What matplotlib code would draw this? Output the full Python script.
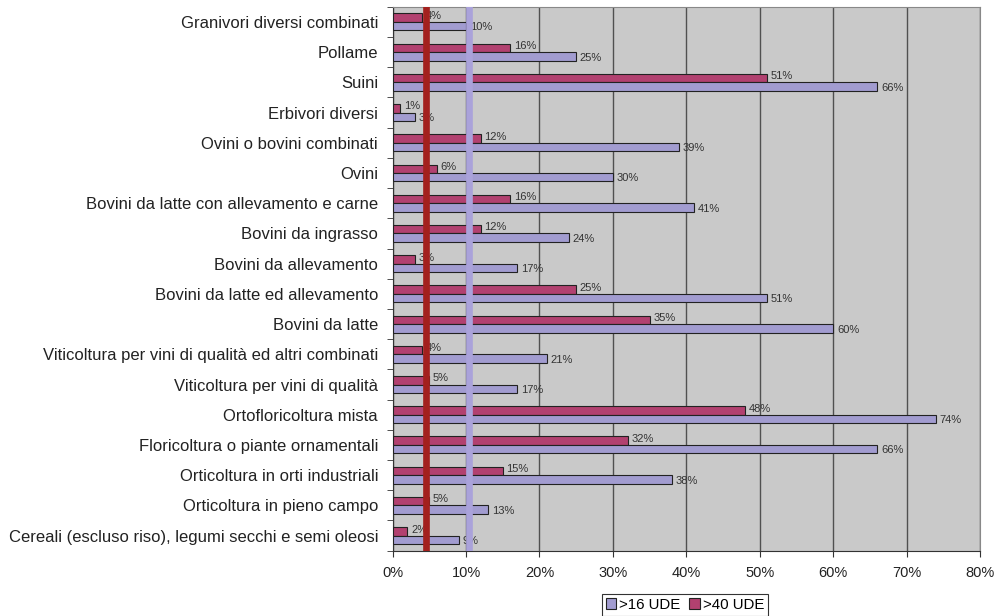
import matplotlib
matplotlib.use('Agg')
import matplotlib.pyplot as plt
import numpy as np

plt.rcParams['font.family'] = ['Liberation Sans', 'DejaVu Sans']

# categorie, dal basso verso l'alto
categorie = [
    'Cereali (escluso riso), legumi secchi e semi oleosi',
    'Orticoltura in pieno campo',
    'Orticoltura in orti industriali',
    'Floricoltura o piante ornamentali',
    'Ortofloricoltura mista',
    'Viticoltura per vini di qualità',
    'Viticoltura per vini di qualità ed altri combinati',
    'Bovini da latte',
    'Bovini da latte ed allevamento',
    'Bovini da allevamento',
    'Bovini da ingrasso',
    'Bovini da latte con allevamento e carne',
    'Ovini',
    'Ovini o bovini combinati',
    'Erbivori diversi',
    'Suini',
    'Pollame',
    'Granivori diversi combinati',
]
ude16 = [9, 13, 38, 66, 74, 17, 21, 60, 51, 17, 24, 41, 30, 39, 3, 66, 25, 10]
ude40 = [2, 5, 15, 32, 48, 5, 4, 35, 25, 3, 12, 16, 6, 12, 1, 51, 16, 4]
media40 = 4.5
media16 = 10.4

col16 = '#a29cd0'
col40 = '#b24170'

fig = plt.figure(figsize=(9.94, 6.16), dpi=100)
ax = fig.add_axes([0.395, 0.106, 0.591, 0.883])
ax.set_facecolor('#c9c9c9')

y = np.arange(len(categorie))
h = 0.28
ax.barh(y + h / 2, ude40, height=h, color=col40, edgecolor='#222222', linewidth=0.8, zorder=3, label='>40 UDE')
ax.barh(y - h / 2, ude16, height=h, color=col16, edgecolor='#222222', linewidth=0.8, zorder=3, label='>16 UDE')

for i in range(len(categorie)):
    ax.text(ude40[i] + 0.5, y[i] + h / 2 + 0.06, '%d%%' % ude40[i], fontsize=8, color='#333333',
            va='center', ha='left', zorder=4)
    ax.text(ude16[i] + 0.5, y[i] - h / 2 - 0.04, '%d%%' % ude16[i], fontsize=8, color='#333333',
            va='center', ha='left', zorder=4)

ax.axvline(media40, color='#a3201e', lw=4.8, zorder=5)
ax.axvline(media16, color='#aaa2da', lw=4.8, zorder=5)

ax.set_xlim(0, 80)
ax.set_ylim(-0.5, len(categorie) - 0.5)
ax.set_xticks(np.arange(0, 81, 10))
ax.set_xticklabels(['%d%%' % v for v in range(0, 81, 10)], fontsize=10.5, color='#222222')
ax.set_yticks(y)
ax.set_yticklabels(categorie, fontsize=12, color='#222222')
ax.tick_params(axis='y', length=0, pad=10.5)
ax.set_yticks(np.arange(-0.5, len(categorie)), minor=True)
ax.tick_params(axis='y', which='minor', length=4, color='#333333')
ax.tick_params(axis='x', length=4, color='#333333', pad=7)
ax.xaxis.grid(True, color='#505050', lw=1)
ax.set_axisbelow(True)
for s in ['top', 'right']:
    ax.spines[s].set_color('#888888')
for s in ['left', 'bottom']:
    ax.spines[s].set_color('#333333')

handles, labels = ax.get_legend_handles_labels()
leg = fig.legend(handles[::-1], labels[::-1], loc='center', bbox_to_anchor=(0.689, 0.018), ncol=2,
                 fontsize=10.8, frameon=True, fancybox=False, edgecolor='black', handlelength=0.7,
                 handleheight=0.7, handletextpad=0.2, columnspacing=0.6, borderpad=0.25, borderaxespad=0)
leg.get_frame().set_linewidth(0.8)

fig.savefig('out.png', dpi=100)
